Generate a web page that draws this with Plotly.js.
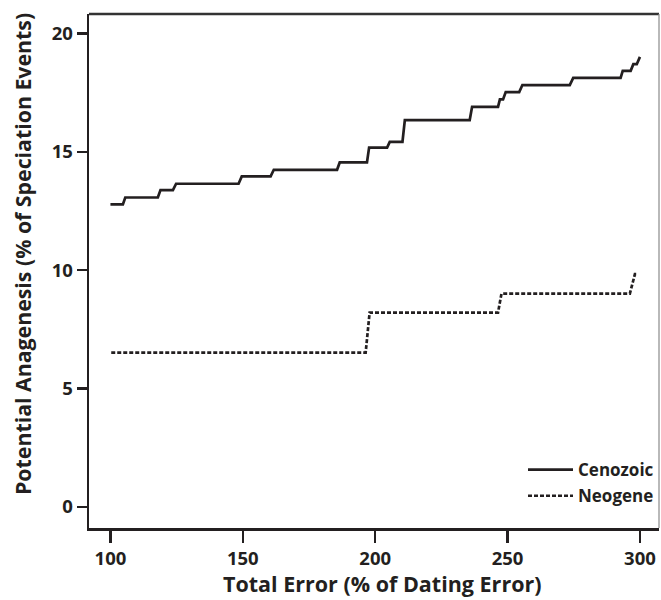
<!DOCTYPE html>
<html>
<head>
<meta charset="utf-8">
<script src="https://cdn.plot.ly/plotly-3.0.1.min.js"></script>
<style>html,body{margin:0;padding:0;background:#fff;}#chart{width:661px;height:600px;}</style>
</head>
<body>
<div id="chart"></div>
<script>
// Cenozoic: start/end points of each step segment
var cenozoicX = [100, 104.7, 105.6, 117.9, 118.9, 123.6, 124.8, 148.4, 149.6, 160.5, 161.7, 185.6, 186.6, 196.9, 197.7, 204.5, 205.5, 210.3, 211.2, 235.7, 236.6, 246.4, 247.1, 248.3, 249.3, 254.4, 255.6, 273.5, 274.8, 292.7, 293.5, 296.5, 297.5, 298.8, 300];
var cenozoicY = [12.78, 12.78, 13.07, 13.07, 13.38, 13.38, 13.65, 13.65, 13.96, 13.96, 14.24, 14.24, 14.55, 14.55, 15.18, 15.18, 15.42, 15.42, 16.34, 16.34, 16.90, 16.90, 17.21, 17.21, 17.52, 17.52, 17.82, 17.82, 18.12, 18.12, 18.42, 18.42, 18.70, 18.70, 19.01];
// Neogene
var neogeneX = [100.3, 196.4, 197.9, 246.4, 247.7, 296.2, 298.1, 299];
var neogeneY = [6.52, 6.52, 8.21, 8.21, 9.01, 9.01, 9.83, 9.83];

var xTicks = [100, 150, 200, 250, 300];
var yTicks = [0, 5, 10, 15, 20];
var seriesNames = ['Cenozoic', 'Neogene'];

var ink = '#231f20';
var fontFam = '"Open Sans", "DejaVu Sans", sans-serif';

var traces = [
  {x: cenozoicX, y: cenozoicY, mode: 'lines', name: seriesNames[0], legendgroup: 'a',
   line: {color: ink, width: 2.7}},
  {x: neogeneX, y: neogeneY, mode: 'lines', name: seriesNames[1], legendgroup: 'b',
   line: {color: ink, width: 2.7, dash: '4px,2px'}}
];

var layout = {
  width: 661, height: 600,
  margin: {l: 89, r: 2, t: 14, b: 72},
  paper_bgcolor: '#fff', plot_bgcolor: '#fff',
  font: {family: fontFam, color: ink},
  showlegend: true,
  legend: {x: 1, xanchor: 'right', y: 0.027, yanchor: 'bottom', itemwidth: 45,
           bgcolor: 'rgba(0,0,0,0)', traceorder: 'grouped', tracegroupgap: 1,
           font: {family: fontFam, size: 17, color: ink, weight: 'bold'}},
  xaxis: {range: [91.9, 307.2], tickvals: xTicks, ticktext: xTicks.map(String),
          showgrid: false, zeroline: false, showline: true, linecolor: ink, linewidth: 2.5,
          ticks: 'outside', ticklen: 12, tickwidth: 2.5, tickcolor: ink,
          tickfont: {family: fontFam, size: 18.5, color: ink, weight: 'bold'}},
  yaxis: {range: [-0.89, 20.82], tickvals: yTicks, ticktext: yTicks.map(String),
          showgrid: false, zeroline: false, showline: true, linecolor: ink, linewidth: 2.5,
          ticks: 'outside', ticklen: 10, tickwidth: 2.5, tickcolor: ink,
          tickfont: {family: fontFam, size: 18.5, color: ink, weight: 'bold'}},
  shapes: [
    {type: 'line', xref: 'paper', yref: 'paper', x0: 0, x1: 1, y0: 1, y1: 1,
     line: {color: '#333', width: 2.5}},
    {type: 'line', xref: 'paper', yref: 'paper', x0: 1, x1: 1, y0: 0, y1: 1,
     line: {color: '#8a8a8a', width: 1.2}}
  ],
  annotations: [
    {text: 'Total Error (% of Dating Error)', xref: 'paper', yref: 'paper',
     x: (382 - 89) / 570, y: -(583 - 528) / 514, xanchor: 'center', yanchor: 'middle', showarrow: false,
     font: {family: fontFam, size: 21.5, color: ink, weight: 'bold'}},
    {text: 'Potential Anagenesis (% of Speciation Events)', xref: 'paper', yref: 'paper',
     x: -(89 - 22) / 570, y: (528 - 254) / 514, xanchor: 'center', yanchor: 'middle', textangle: -90, showarrow: false,
     font: {family: fontFam, size: 21.3, color: ink, weight: 'bold'}}
  ]
};

Plotly.newPlot('chart', traces, layout, {staticPlot: true, displayModeBar: false});
</script>
</body>
</html>
